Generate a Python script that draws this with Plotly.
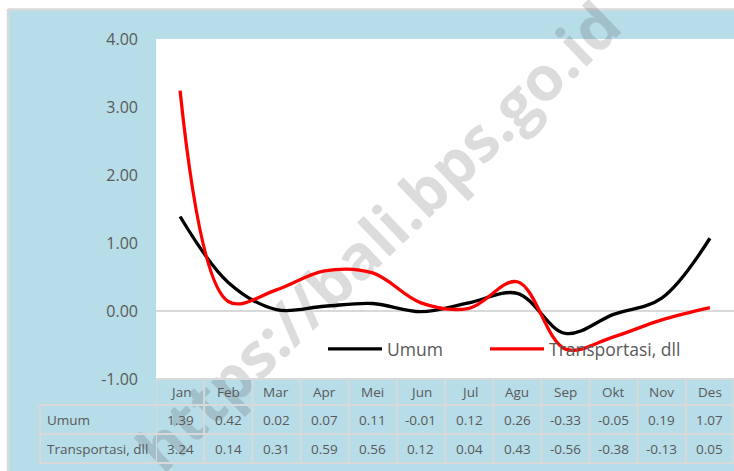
import plotly.graph_objects as go

# ---- data ----
months = ["Jan", "Feb", "Mar", "Apr", "Mei", "Jun", "Jul", "Agu", "Sep", "Okt", "Nov", "Des"]
umum = [1.39, 0.42, 0.02, 0.07, 0.11, -0.01, 0.12, 0.26, -0.33, -0.05, 0.19, 1.07]
transport = [3.24, 0.14, 0.31, 0.59, 0.56, 0.12, 0.04, 0.43, -0.56, -0.38, -0.13, 0.05]
series_names = ["Umum", "Transportasi, dll"]
y_ticks = [-1, 0, 1, 2, 3, 4]
y_tick_labels = ["-1.00", "0.00", "1.00", "2.00", "3.00", "4.00"]
watermark = "https://bali.bps.go.id"

# ---- geometry (pixels) ----
W, H = 734, 471
L, R, T, B = 156, 734, 39, 379
PW, PH = R - L, B - T


def px_x(px):
    return (px - L) / PW


def px_y(py):
    return (B - py) / PH


BLUE = "#B7DDE8"
GRID = "#D9D9D9"
TXT = "#595959"
FONT = "Open Sans"

fig = go.Figure()
fig.add_trace(go.Scatter(x=months, y=umum, name=series_names[0], mode="lines", legend="legend",
                         line=dict(color="black", width=3.3, shape="spline", smoothing=1.0)))
fig.add_trace(go.Scatter(x=months, y=transport, name=series_names[1], mode="lines", legend="legend2",
                         line=dict(color="#FF0000", width=3.3, shape="spline", smoothing=1.0)))

shapes = []
# outer white margin + gray frame
shapes.append(dict(type="rect", xref="paper", yref="paper", x0=px_x(0), x1=px_x(W), y0=px_y(0), y1=px_y(9),
                   fillcolor="white", line=dict(width=0), layer="below"))
shapes.append(dict(type="rect", xref="paper", yref="paper", x0=px_x(0), x1=px_x(8), y0=px_y(0), y1=px_y(H),
                   fillcolor="white", line=dict(width=0), layer="below"))
shapes.append(dict(type="line", xref="paper", yref="paper", x0=px_x(8), x1=px_x(W), y0=px_y(9.5), y1=px_y(9.5),
                   line=dict(color=GRID, width=2.5), layer="below"))
shapes.append(dict(type="line", xref="paper", yref="paper", x0=px_x(8), x1=px_x(8), y0=px_y(9), y1=px_y(H),
                   line=dict(color=GRID, width=2.5), layer="below"))

# watermark (below the traces)
shapes.append(dict(type="rect", xref="paper", yref="paper", x0=px_x(340), x1=px_x(420), y0=px_y(196), y1=px_y(280),
                   fillcolor="rgba(0,0,0,0)", line=dict(width=0), layer="below",
                   label=dict(text=watermark, textangle=-44, textposition="middle center",
                              font=dict(family=FONT, size=62, color="rgba(60,60,60,0.18)", weight=700))))

# data table grid
row_lines = [379, 405, 434, 463]
n = len(months)
for i in range(n + 1):
    shapes.append(dict(type="line", xref="x", yref="paper", x0=i - 0.5, x1=i - 0.5, y0=px_y(379), y1=px_y(463),
                       line=dict(color=GRID, width=2)))
shapes.append(dict(type="line", xref="paper", yref="paper", x0=px_x(40), x1=px_x(40), y0=px_y(405), y1=px_y(463),
                   line=dict(color=GRID, width=2)))
for k, ry in enumerate(row_lines):
    x0 = px_x(L) if k == 0 else px_x(40)
    shapes.append(dict(type="line", xref="paper", yref="paper", x0=x0, x1=1, y0=px_y(ry), y1=px_y(ry),
                       line=dict(color=GRID, width=2)))

annotations = []
tfont = dict(family=FONT, size=13.5, color=TXT)
for i, m in enumerate(months):
    annotations.append(dict(x=m, xref="x", y=px_y(392), yref="paper", text=m, showarrow=False,
                            font=tfont, xanchor="center", yanchor="middle"))
    annotations.append(dict(x=m, xref="x", y=px_y(419.5), yref="paper", text=f"{umum[i]:.2f}", showarrow=False,
                            font=tfont, xanchor="center", yanchor="middle"))
    annotations.append(dict(x=m, xref="x", y=px_y(448.5), yref="paper", text=f"{transport[i]:.2f}",
                            showarrow=False, font=tfont, xanchor="center", yanchor="middle"))
for name, ry in zip(series_names, [419.5, 448.5]):
    annotations.append(dict(x=px_x(45), xref="paper", y=px_y(ry), yref="paper", text=name, showarrow=False,
                            font=tfont, xanchor="left", yanchor="middle"))

lfont = dict(family=FONT, size=17.5, color=TXT)
fig.update_layout(
    width=W, height=H,
    margin=dict(l=L, r=W - R, t=T, b=H - B, pad=0),
    paper_bgcolor=BLUE, plot_bgcolor="white",
    font=dict(family=FONT, color=TXT),
    xaxis=dict(type="category", range=[-0.5, n - 0.5], showticklabels=False, showgrid=False,
               zeroline=False, showline=False, ticks=""),
    yaxis=dict(range=[-1, 4], tickvals=y_ticks, ticktext=y_tick_labels, showgrid=False,
               zeroline=True, zerolinecolor=GRID, zerolinewidth=2, showline=False, ticks="",
               ticklabelstandoff=17, tickfont=dict(family=FONT, size=16, color=TXT)),
    showlegend=True,
    legend=dict(orientation="h", x=px_x(323), y=px_y(349), xanchor="left", yanchor="middle",
                bgcolor="rgba(0,0,0,0)", font=lfont, itemwidth=54),
    legend2=dict(orientation="h", x=px_x(485), y=px_y(349), xanchor="left", yanchor="middle",
                 bgcolor="rgba(0,0,0,0)", font=lfont, itemwidth=54),
    shapes=shapes,
    annotations=annotations,
)

fig.write_html("out.html", config={"displayModeBar": False},
               post_script="document.body.style.margin='0';")
